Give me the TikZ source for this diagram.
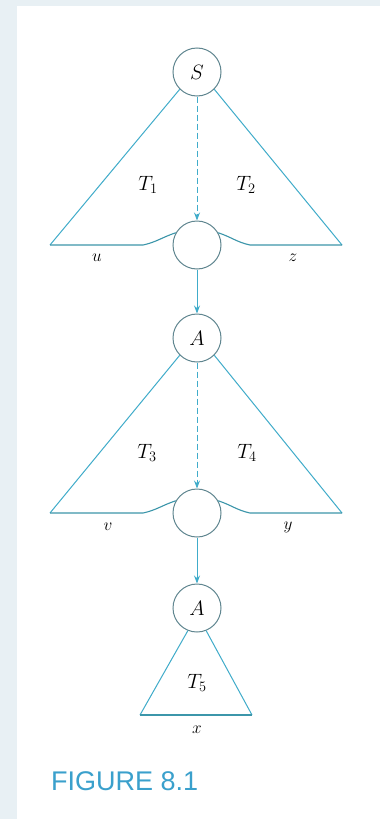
\documentclass[tikz,border=0pt]{standalone}
\usepackage{fontspec}
\newfontfamily\capfont{Liberation Sans}
\usetikzlibrary{arrows.meta}
\definecolor{bgstrip}{RGB}{232,240,244}
\definecolor{linec}{RGB}{64,172,202}
\definecolor{circc}{RGB}{96,134,144}
\definecolor{basec}{RGB}{60,150,170}
\definecolor{capc}{RGB}{58,160,204}
\begin{document}
\begin{tikzpicture}[x=1pt,y=-1pt,
  vnode/.style={circle,draw=circc,line width=1pt,minimum size=48pt,inner sep=0pt,font=\fontsize{21}{24}\selectfont},
  tri/.style={draw=linec,line width=1pt},
  base/.style={draw=basec,line width=1.1pt},
  lab/.style={font=\fontsize{21}{24}\selectfont,inner sep=0pt},
  slab/.style={font=\fontsize{19}{22}\selectfont,inner sep=0pt},
  arr/.style={draw=linec,line width=1pt,-{Stealth[length=8pt,width=6pt]}},
  darr/.style={arr,dash pattern=on 6pt off 3pt}]
\useasboundingbox (0,0) rectangle (380,819);
\fill[bgstrip] (0,0) rectangle (380,819);
\fill[white] (17,6) rectangle (380,819);
% top tree
\node[vnode] (S) at (197,72) {$S$};
\node[vnode] (c1) at (197,245) {};
\coordinate (l1) at (50,245);
\coordinate (r1) at (342,245);
\coordinate (lb1) at (143,245);
\coordinate (rb1) at (250,245);
\draw[tri] (S.-135) -- (l1);
\draw[tri] (S.-45) -- (r1);
\draw[base] (l1) -- (lb1) to[out=12,in=-162] (c1.150);
\draw[base] (c1.30) to[out=-18,in=168] (rb1) -- (r1);
\draw[darr] (S.south) -- (c1.north);
\node[lab] (T1) at (148,185) {$T_1$};
\node[lab] (T2) at (246,185) {$T_2$};
\node[slab] (u) at (97,258) {$u$};
\node[slab] (z) at (293,258) {$z$};
% middle tree
\node[vnode] (A1) at (197,338) {$A$};
\draw[arr] (c1.south) -- (A1.north);
\node[vnode] (c2) at (197,513) {};
\coordinate (l2) at (50,513);
\coordinate (r2) at (342,513);
\coordinate (lb2) at (143,513);
\coordinate (rb2) at (250,513);
\draw[tri] (A1.-135) -- (l2);
\draw[tri] (A1.-45) -- (r2);
\draw[base] (l2) -- (lb2) to[out=12,in=-162] (c2.150);
\draw[base] (c2.30) to[out=-18,in=168] (rb2) -- (r2);
\draw[darr] (A1.south) -- (c2.north);
\node[lab] (T3) at (147,453) {$T_3$};
\node[lab] (T4) at (247,453) {$T_4$};
\node[slab] (v) at (108,527) {$v$};
\node[slab] (y) at (288,527) {$y$};
% bottom tree
\node[vnode] (A2) at (197,608) {$A$};
\draw[arr] (c2.south) -- (A2.north);
\coordinate (l3) at (140,715);
\coordinate (r3) at (252,715);
\draw[tri] (A2.-112) -- (l3);
\draw[tri] (A2.-68) -- (r3);
\draw[base] (l3) -- (r3);
\node[lab] (T5) at (197,683) {$T_5$};
\node[slab] (x) at (197,730) {$x$};
% caption
\node[anchor=west,inner sep=0pt,text=capc,font=\capfont\fontsize{27}{30}\selectfont] (cap) at (51,781) {FIGURE 8.1};
\end{tikzpicture}
\end{document}
